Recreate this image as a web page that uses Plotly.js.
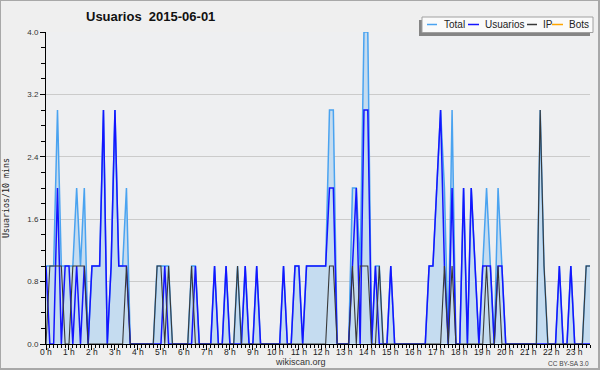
<!DOCTYPE html>
<html><head><meta charset="utf-8">
<script src="https://cdn.plot.ly/plotly-3.0.1.min.js"></script>
<style>
html,body{margin:0;padding:0;background:#efefef;}
#wrap{position:relative;width:600px;height:370px;}
#chart{width:600px;height:370px;}
#frame{position:absolute;left:0;top:0;width:600px;height:370px;box-sizing:border-box;border-style:solid;border-color:#a8a8a8;border-width:1px 2px 2px 1px;pointer-events:none;}
</style></head><body>
<div id="wrap"><div id="chart"></div><div id="frame"></div></div>
<script>
// tick labels (one per hour, 6 ten-minute steps per hour)
const hourLabels = ["0 h","1 h","2 h","3 h","4 h","5 h","6 h","7 h","8 h","9 h","10 h","11 h",
  "12 h","13 h","14 h","15 h","16 h","17 h","18 h","19 h","20 h","21 h","22 h","23 h"];
const seriesNames = ["Total","Usuarios","IP","Bots"];

// values per 10-minute step (6 per hour)
const total = [
  1,1,1,3,1,1,  1,1,2,1,2,0,  1,1,1,3,0,1,  3,1,1,2,0,0,
  0,0,0,0,0,1,  1,1,1,0,0,0,  0,0,1,1,0,0,  0,0,1,0,0,1,
  0,0,1,0,1,0,  0,1,0,0,0,0,  0,0,1,0,0,1,  1,0,1,1,1,1,
  1,1,3,3,0,0,  0,0,2,2,1,4,  4,0,1,1,0,0,  1,0,0,0,0,0,
  0,0,0,0,1,1,  2,3,2,0,3,0,  0,2,0,2,1,0,  1,2,1,0,2,1,
  0,0,0,0,0,0,  0,0,0,3,1,0,  0,0,1,0,0,1,  0,0,0,1,1,1];
const usuarios = [
  1,0,0,2,0,1,  1,0,1,0,1,0,  1,1,1,3,0,1,  3,1,1,1,0,0,
  0,0,0,0,0,0,  0,1,0,0,0,0,  0,0,0,1,0,0,  0,0,1,0,0,1,
  0,0,0,0,1,0,  0,1,0,0,0,0,  0,0,1,0,0,1,  1,0,1,1,1,1,
  1,1,2,2,0,0,  0,0,1,2,0,3,  3,0,1,0,0,0,  1,0,0,0,0,0,
  0,0,0,0,1,1,  2,3,1,0,2,0,  0,2,0,2,1,0,  1,1,1,0,1,1,
  0,0,0,0,0,0,  0,0,0,0,0,0,  0,0,1,0,0,1,  0,0,0,0,0,0];
const ip = [
  0,1,1,1,1,0,  0,1,1,1,1,0,  0,0,0,0,0,0,  0,0,0,1,0,0,
  0,0,0,0,0,1,  1,0,1,0,0,0,  0,0,1,0,0,0,  0,0,0,0,0,0,
  0,0,1,0,0,0,  0,0,0,0,0,0,  0,0,0,0,0,0,  0,0,0,0,0,0,
  0,0,1,1,0,0,  0,0,1,0,1,1,  1,0,0,1,0,0,  0,0,0,0,0,0,
  0,0,0,0,0,0,  0,0,1,0,1,0,  0,0,0,0,0,0,  0,1,0,0,1,0,
  0,0,0,0,0,0,  0,0,0,3,1,0,  0,0,0,0,0,0,  0,0,0,1,1,1];
const bots = [
  0,0,0,0,0,0,  0,0,0,0,0,0,  0,0,0,0,0,0,  0,0,0,0,0,0,
  0,0,0,0,0,0,  0,0,0,0,0,0,  0,0,0,0,0,0,  0,0,0,0,0,0,
  0,0,0,0,0,0,  0,0,0,0,0,0,  0,0,0,0,0,0,  0,0,0,0,0,0,
  0,0,0,0,0,0,  0,0,0,0,0,0,  0,0,0,0,0,0,  0,0,0,0,0,0,
  0,0,0,0,0,0,  0,0,0,0,0,0,  0,0,0,0,0,0,  0,0,0,0,0,0,
  0,0,0,0,0,0,  0,0,0,0,0,0,  0,0,0,0,0,0,  0,0,0,0,0,0];

const steps = total.map((_, i) => i);
const hourTicks = hourLabels.map((_, h) => h * 6);
const colors = {Total:'#4aa3f0', Usuarios:'#1414ff', IP:'#383838', Bots:'#ffa500'};

// plot area in pixels
const L = 46, R = 590, T = 32, B = 344;
const px = x => (x - L) / (R - L);
const py = y => (B - y) / (B - T);
const FONT = 'Liberation Sans, Arial, sans-serif';

const traces = [
  {x: steps, y: bots, type:'scatter', mode:'lines', name:'Bots', line:{color:colors.Bots, width:1}},
  {x: steps, y: total, type:'scatter', mode:'lines', name:'Total', fill:'tozeroy', fillcolor:'#c5dcf0',
   line:{color:colors.Total, width:1.5}},
  {x: steps, y: usuarios, type:'scatter', mode:'lines', name:'Usuarios', line:{color:colors.Usuarios, width:1.5}},
  {x: steps, y: ip, type:'scatter', mode:'lines', name:'IP', line:{color:colors.IP, width:1.1}}
];

// manual legend
const legItems = [
  {name:seriesNames[0], x0:427, x1:437, tx:441.5},
  {name:seriesNames[1], x0:468, x1:479, tx:483},
  {name:seriesNames[2], x0:527, x1:537, tx:540.5},
  {name:seriesNames[3], x0:552, x1:563, tx:567}
];
const shapes = [
  {type:'rect', xref:'paper', yref:'paper', x0:px(419), x1:px(590), y0:py(36), y1:py(20), fillcolor:'#858585', line:{width:0}},
  {type:'rect', xref:'paper', yref:'paper', x0:px(422), x1:px(593), y0:py(32.5), y1:py(17), fillcolor:'#fafafa', line:{color:'#a0a0a0', width:1}}
];
const annotations = [
  {text:'<b>Usuarios\u00a0 2015-06-01</b>', xref:'paper', yref:'paper', x:px(150.5), y:py(16.5), xanchor:'center', yanchor:'middle', showarrow:false, font:{family:FONT, size:13, color:'#111'}},
  {text:'Usuarios/10 mins', xref:'paper', yref:'paper', x:px(6), y:py(198), xanchor:'center', yanchor:'middle', textangle:-90, showarrow:false, font:{family:'DejaVu Sans Mono, monospace', size:8.3, color:'#222'}},
  {text:'wikiscan.org', xref:'paper', yref:'paper', x:px(300), y:py(362), xanchor:'center', yanchor:'middle', showarrow:false, font:{family:FONT, size:9, color:'#333'}},
  {text:'CC BY-SA 3.0', xref:'paper', yref:'paper', x:px(591), y:py(363), xanchor:'right', yanchor:'middle', showarrow:false, font:{family:FONT, size:6.5, color:'#444'}}
];
// hour tick labels placed on the x axis scale
hourTicks.forEach((t, h) => {
  annotations.push({text:hourLabels[h], xref:'x', yref:'paper', x:t, y:py(352.5), xanchor:'center', yanchor:'middle',
    showarrow:false, borderpad:0, font:{family:FONT, size:8.5, color:'#222'}});
});
legItems.forEach(it => {
  shapes.push({type:'line', xref:'paper', yref:'paper', x0:px(it.x0), x1:px(it.x1), y0:py(24.5), y1:py(24.5), line:{color:colors[it.name], width:1.5}});
  annotations.push({text:it.name, xref:'paper', yref:'paper', x:px(it.tx), y:py(24.5), xanchor:'left', yanchor:'middle', showarrow:false, font:{family:FONT, size:10, color:'#222'}});
});

const layout = {
  width:600, height:370,
  margin:{l:L, r:600-R, t:T, b:370-B, pad:0},
  paper_bgcolor:'#efefef', plot_bgcolor:'#eeeff1',
  showlegend:false,
  font:{family:FONT, color:'#222'},
  xaxis:{range:[0,142], tickmode:'array', tickvals:hourTicks, ticktext:hourLabels, showticklabels:false,
    ticks:'outside', ticklen:5, tickwidth:1, tickcolor:'#000',
    minor:{tickmode:'linear', tick0:0, dtick:1, ticklen:3, tickcolor:'#000', ticks:'outside', showgrid:false},
    showgrid:false, zeroline:false, showline:true, linecolor:'#000', linewidth:1, fixedrange:true},
  yaxis:{range:[0,4], tickmode:'linear', tick0:0, dtick:0.8, tickformat:'.1f',
    ticks:'outside', ticklen:5, tickwidth:1, tickcolor:'#000',
    minor:{tickmode:'linear', tick0:0, dtick:0.2, ticklen:4, tickcolor:'#000', ticks:'outside', showgrid:false},
    showgrid:true, gridcolor:'#cbcbcb', gridwidth:1, zeroline:false, showline:true, linecolor:'#000', linewidth:1,
    tickfont:{family:FONT, size:8, color:'#333'}, fixedrange:true},
  shapes:shapes, annotations:annotations
};
Plotly.newPlot('chart', traces, layout, {staticPlot:true, displayModeBar:false});
</script>
</body></html>
